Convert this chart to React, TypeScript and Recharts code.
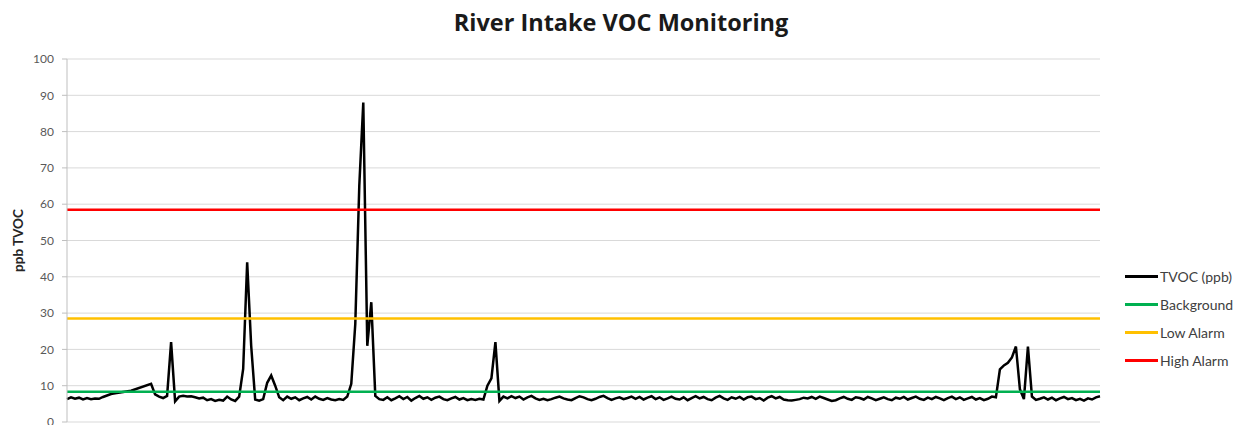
import React from 'react';
import { LineChart, Line, XAxis, YAxis, CartesianGrid, Label } from 'recharts';

const TITLE = 'River Intake VOC Monitoring';
const Y_LABEL = 'ppb TVOC';
const Y_TICKS = [0, 10, 20, 30, 40, 50, 60, 70, 80, 90, 100];

// TVOC readings (ppb), one per sample; nulls are gaps in the logger record
const TVOC: (number | null)[] = [
  6.3, 6.8, 6.4, 6.7, 6.2, 6.6, 6.3, 6.5, 6.4, 6.9,
  7.3, 7.7, 7.9, null, null, null, 8.6, null, null, null,
  null, 10.5, 7.6, 7.0, 6.6, 7.2, 22.0, 5.7, 7.0, 7.2,
  7.0, 7.1, 6.8, 6.5, 6.7, 6.0, 6.3, 5.8, 6.1, 5.9,
  7.0, 6.2, 5.8, 7.0, 14.6, 44.0, 21.0, 6.2, 5.9, 6.3,
  10.8, 12.8, 10.0, 6.8, 6.0, 7.0, 6.4, 6.8, 6.0, 6.5,
  6.9, 6.2, 7.0, 6.4, 6.1, 6.6, 6.2, 6.0, 6.3, 6.1,
  7.0, 10.5, 27.0, 65.0, 88.0, 21.0, 33.0, 7.2, 6.3, 6.1,
  6.8, 6.0, 6.5, 7.1, 6.3, 6.9, 5.9, 6.6, 7.2, 6.4,
  6.8, 6.1, 6.7, 7.0, 6.3, 6.0, 6.5, 6.9, 6.2, 6.6,
  6.0, 6.3, 6.1, 6.4, 6.2, 10.0, 12.0, 22.0, 5.8, 7.0,
  6.5, 7.1, 6.6, 7.0, 6.2, 6.8, 7.2, 6.5, 6.1, 6.4,
  6.0, 6.3, 6.7, 7.0, 6.5, 6.2, 6.0, 6.6, 7.1, 6.8,
  6.3, 6.0, 6.4, 6.9, 7.2, 6.6, 6.1, 6.5, 6.8, 6.3,
  6.6, 7.0, 6.4, 6.9, 6.2, 6.7, 7.1, 6.3, 6.8, 6.1,
  6.5, 7.0, 6.4, 6.2, 6.8, 6.0, 6.6, 7.1, 6.5, 6.9,
  6.3, 6.0, 6.7, 7.2, 6.5, 6.1, 6.8, 6.4, 6.9, 6.2,
  6.8, 7.0, 6.3, 6.6, 5.9, 6.7, 7.1, 6.5, 6.9, 6.2,
  6.0, 5.9, 6.1, 6.3, 6.7, 6.5, 6.9, 6.4, 7.0, 6.6,
  6.2, 5.8, 6.0, 6.5, 6.9, 6.4, 6.1, 6.8, 6.6, 6.2,
  6.9, 6.5, 6.0, 6.4, 6.8, 6.3, 6.0, 6.7, 6.4, 6.9,
  6.2, 6.6, 7.0, 6.4, 6.1, 6.7, 6.3, 6.9, 6.5, 6.0,
  6.6, 7.0, 6.3, 6.8, 6.1, 6.5, 6.9, 6.2, 6.6, 6.0,
  6.4, 7.0, 6.8, 14.5, 15.6, 16.3, 17.8, 20.8, 9.0, 6.3,
  20.8, 7.0, 6.1, 6.4, 6.8, 6.2, 6.7, 6.0, 6.5, 6.9,
  6.3, 6.6, 6.0, 6.4, 5.9, 6.5, 6.2, 6.8, 7.1,
];

// fixed threshold levels (ppb)
const BACKGROUND = 8.3;
const LOW_ALARM = 28.5;
const HIGH_ALARM = 58.5;

const SERIES = [
  { key: 'tvoc', name: 'TVOC (ppb)', color: '#000000' },
  { key: 'background', name: 'Background', color: '#00B050' },
  { key: 'low', name: 'Low Alarm', color: '#FFC000' },
  { key: 'high', name: 'High Alarm', color: '#FF0000' },
];

const rows = TVOC.map((v, i) => ({
  sample: i + 1,
  tvoc: v,
  background: BACKGROUND,
  low: LOW_ALARM,
  high: HIGH_ALARM,
}));

const FONT = 'Lato, "Open Sans", sans-serif';

export default function App() {
  return (
    <div style={{ position: 'absolute', left: 0, top: 0, width: 1242, height: 445, background: '#fff', fontFamily: FONT }}>
      <div
        style={{
          position: 'absolute',
          top: 6,
          left: 0,
          width: 1242,
          textAlign: 'center',
          fontSize: 23.5,
          fontWeight: 700,
          fontFamily: '"Open Sans", sans-serif',
          color: '#1a1a1a',
        }}
      >
        {TITLE}
      </div>
      <LineChart
        width={1242}
        height={445}
        data={rows}
        margin={{ top: 59, right: 142, left: 0, bottom: 23 }}
      >
        <CartesianGrid stroke="#d9d9d9" vertical={false} />
        <XAxis dataKey="sample" hide />
        <YAxis
          domain={[0, 100]}
          ticks={Y_TICKS}
          width={67}
          interval={0}
          axisLine={{ stroke: '#bfbfbf' }}
          tickLine={{ stroke: '#bfbfbf' }}
          tickSize={5}
          tickMargin={8}
          tick={{ fill: '#595959', fontSize: 12, fontFamily: FONT }}
        >
          <Label
            value={Y_LABEL}
            angle={-90}
            position="center"
            dx={-15}
            style={{ fill: '#262626', fontSize: 13.5, fontWeight: 700, fontFamily: FONT }}
          />
        </YAxis>
        {SERIES.map((s) => (
          <Line
            key={s.key}
            dataKey={s.key}
            name={s.name}
            stroke={s.color}
            strokeWidth={2.5}
            dot={false}
            connectNulls
            type="linear"
            isAnimationActive={false}
          />
        ))}
      </LineChart>
      {/* legend */}
      <div style={{ position: 'absolute', left: 1125, top: 262 }}>
        {SERIES.map((s) => (
          <div key={s.key} style={{ display: 'flex', alignItems: 'center', height: 28.2 }}>
            <div style={{ width: 33, height: 3, background: s.color }} />
            <span style={{ marginLeft: 2, fontSize: 14, color: '#404040' }}>{s.name}</span>
          </div>
        ))}
      </div>
    </div>
  );
}
